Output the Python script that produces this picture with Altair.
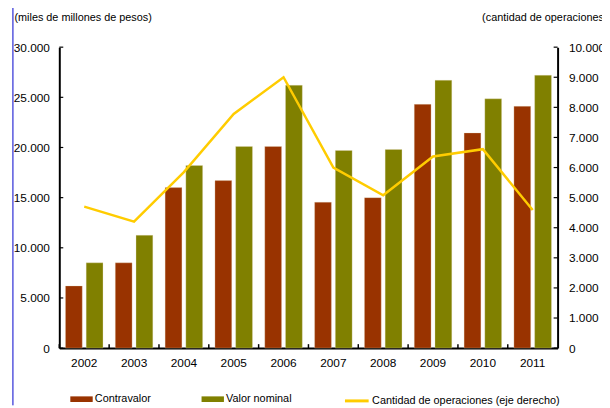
import altair as alt
import pandas as pd

years = ["2002", "2003", "2004", "2005", "2006", "2007", "2008", "2009", "2010", "2011"]
contravalor = [6200, 8500, 16000, 16700, 20100, 14550, 15000, 24300, 21450, 24100]
valor_nominal = [8500, 11250, 18200, 20100, 26200, 19700, 19800, 26700, 24850, 27200]
operaciones = [4700, 4200, 5850, 7780, 9000, 6000, 5080, 6370, 6610, 4590]

left_ticks = [0, 5000, 10000, 15000, 20000, 25000, 30000]
right_ticks = [0, 1000, 2000, 3000, 4000, 5000, 6000, 7000, 8000, 9000, 10000]

series_names = ["Contravalor", "Valor nominal"]
line_name = "Cantidad de operaciones (eje derecho)"
left_title = "(miles de millones de pesos)"
right_title = "(cantidad de operaciones)"

W, H = 505, 305
FONT = "Liberation Sans"
fmt = "replace(format(datum.value, ','), ',', '.')"

df = pd.DataFrame({
    "year": years,
    "Contravalor": contravalor,
    "Valor nominal": valor_nominal,
    "ops": operaciones,
})

x_axis = alt.Axis(title=None, labelAngle=0, ticks=False, domainColor="black",
                  domainWidth=2, labelFontSize=12, labelPadding=10,
                  labelColor="black", labelFont=FONT)
x_scale = alt.Scale(paddingInner=0, paddingOuter=0)

bars = alt.Chart(df).transform_fold(
    series_names, as_=["serie", "valor"]
).mark_bar(stroke="#e8d8c0", strokeWidth=0.5, strokeOpacity=0.6).encode(
    x=alt.X("year:N", sort=years, scale=x_scale, axis=x_axis),
    xOffset=alt.XOffset("serie:N", sort=series_names,
                        scale=alt.Scale(paddingInner=0.19, paddingOuter=0.297)),
    y=alt.Y("valor:Q", scale=alt.Scale(domain=[0, 30000], nice=False),
            axis=alt.Axis(values=left_ticks, labelExpr=fmt, ticks=False, grid=False,
                          domainColor="black", domainWidth=2, labelPadding=10,
                          labelFontSize=12, labelColor="black", labelFont=FONT,
                          title=left_title, titleAngle=0, titleAlign="left",
                          titleBaseline="middle", titleX=-46, titleY=-30,
                          titleFontSize=11, titleFontWeight="normal",
                          titleColor="black", titleFont=FONT)),
    color=alt.Color("serie:N",
                    scale=alt.Scale(domain=series_names, range=["#993300", "#808000"]),
                    legend=alt.Legend(title=None, orient="none", legendX=11, legendY=345,
                                      direction="horizontal", columns=2, columnPadding=51,
                                      symbolType="M-1,-0.25L1,-0.25L1,0.25L-1,0.25Z",
                                      symbolSize=515, symbolStrokeWidth=0,
                                      labelFontSize=11, labelOffset=2, padding=0,
                                      labelColor="black", labelFont=FONT)),
)

line = alt.Chart(df).transform_calculate(
    serie2=f"'{line_name}'"
).mark_line(strokeWidth=2.5).encode(
    x=alt.X("year:N", sort=years, scale=x_scale, axis=x_axis),
    y=alt.Y("ops:Q", scale=alt.Scale(domain=[0, 10000], nice=False),
            axis=alt.Axis(orient="right", values=right_ticks, labelExpr=fmt,
                          ticks=False, grid=False, domainColor="black", domainWidth=2,
                          labelPadding=11, labelFontSize=12, labelColor="black",
                          labelFont=FONT, title=right_title, titleAngle=0,
                          titleAlign="left", titleBaseline="middle", titleX=-77,
                          titleY=-30, titleFontSize=11, titleFontWeight="normal",
                          titleColor="black", titleFont=FONT)),
    stroke=alt.Stroke("serie2:N", scale=alt.Scale(domain=[line_name], range=["#FFCC00"]),
                      legend=alt.Legend(title=None, orient="none", legendX=288, legendY=345,
                                        symbolType="stroke", symbolSize=576,
                                        symbolStrokeWidth=3, labelFontSize=11,
                                        labelOffset=2, padding=0, labelColor="black",
                                        labelLimit=400, labelFont=FONT)),
)

lt = alt.Chart(pd.DataFrame({"v": left_ticks})).mark_rule(color="black", strokeWidth=1.2).encode(
    y=alt.Y("v:Q", scale=alt.Scale(domain=[0, 30000], nice=False), axis=None),
    x=alt.value(0), x2=alt.value(4),
)
rt = alt.Chart(pd.DataFrame({"v": right_ticks})).mark_rule(color="black", strokeWidth=1.2).encode(
    y=alt.Y("v:Q", scale=alt.Scale(domain=[0, 10000], nice=False), axis=None),
    x=alt.value(W - 4), x2=alt.value(W),
)
xt = alt.Chart(pd.DataFrame({"year": years})).mark_rule(color="black", strokeWidth=1.5).encode(
    x=alt.X("year:N", sort=years, scale=x_scale, axis=x_axis, bandPosition=0),
    y=alt.value(H - 4), y2=alt.value(H),
)
blue = alt.Chart(pd.DataFrame({"a": [0]})).mark_rule(color="#0000CC", strokeWidth=1).encode(
    x=alt.value(-47), y=alt.value(-45), y2=alt.value(363),
)

chart = alt.layer(bars, line, lt, rt, xt, blue).resolve_scale(
    y="independent"
).properties(
    width=W, height=H,
    autosize=alt.AutoSizeParams(type="none"),
    padding={"left": 52, "top": 37, "right": 45, "bottom": 58},
).configure(font=FONT).configure_view(stroke=None)

chart.save("out.html", embed_options={"renderer": "svg", "actions": False})
